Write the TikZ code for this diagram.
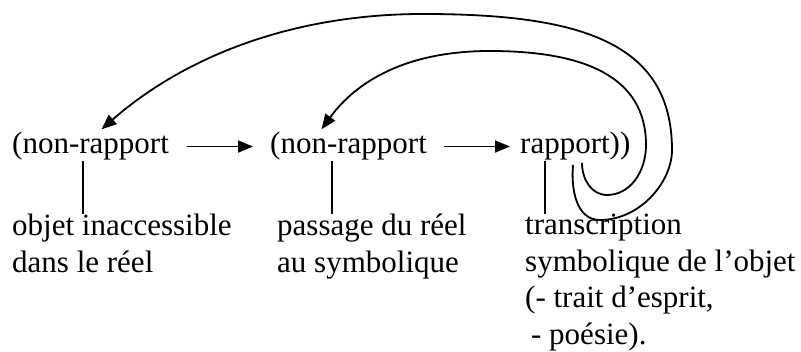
\documentclass[tikz,border=0pt]{standalone}
\usepackage{fontspec}
\setmainfont{Liberation Serif}
\usetikzlibrary{arrows.meta}

\begin{document}
\begin{tikzpicture}[x=1pt,y=1pt]
      \useasboundingbox (0,0) rectangle (801,352);
      \tikzset{Term/.style = {inner sep=0pt, font=\fontsize{31}{36.5}\selectfont},
               Gloss/.style = {Term, anchor=north west, align=left},
               Flow/.style = {line width=1.8pt, -{Triangle[length=15pt,width=12pt]}}}

      % Terms
      \node[Term, anchor=base west] (nr1) at (12,198) {(non-rapport};
      \node[Term, anchor=base west] (nr2) at (270,198) {(non-rapport};
      \node[Term, anchor=base west] (rap) at (520,198) {rapport))};

      % Glosses
      \node[Gloss] (obj) at (12,138) {objet inaccessible\\dans le réel};
      \node[Gloss] (pas) at (277,138) {passage du réel\\au symbolique};
      \node[Gloss] (tra) at (525,138) {transcription\\symbolique de l’objet\\(- trait d’esprit,\\\hspace{6pt}- poésie).};

      % Ticks
      \coordinate (v1) at (83,0);
      \coordinate (v2) at (332,0);
      \coordinate (v3) at (545,0);
      \draw[line width=1.3pt] (nr1.south -| v1) -- (obj.north -| v1);
      \draw[line width=1.3pt] (nr2.south -| v2) -- (pas.north -| v2);
      \draw[line width=1.3pt] (rap.south -| v3) -- (tra.north -| v3);

      % Arrows
      \draw[Flow, shorten <=18pt, shorten >=17pt] (nr1) -- (nr2);
      \draw[Flow, shorten <=17pt, shorten >=10pt] (nr2) -- (rap);

      % Spiral
      \coordinate (s1) at (573,187);
      \coordinate (s2) at (582,189);
      \draw[Flow] (s1) to[out=265,in=180] (600,132)
            .. controls (640,132) and (672,170) .. (672,202)
            .. controls (672,310) and (580,338) .. (423,338)
            .. controls (290,338) and (183,294) .. ([xshift=11pt,yshift=3pt]nr1.north);
      \draw[Flow] (s2) to[out=270,in=180] (607,157)
            .. controls (630,157) and (646,180) .. (646,207)
            .. controls (646,275) and (585,301) .. (490,301)
            .. controls (395,301) and (350,262) .. ([xshift=-27pt,yshift=3pt]nr2.north);
\end{tikzpicture}
\end{document}
